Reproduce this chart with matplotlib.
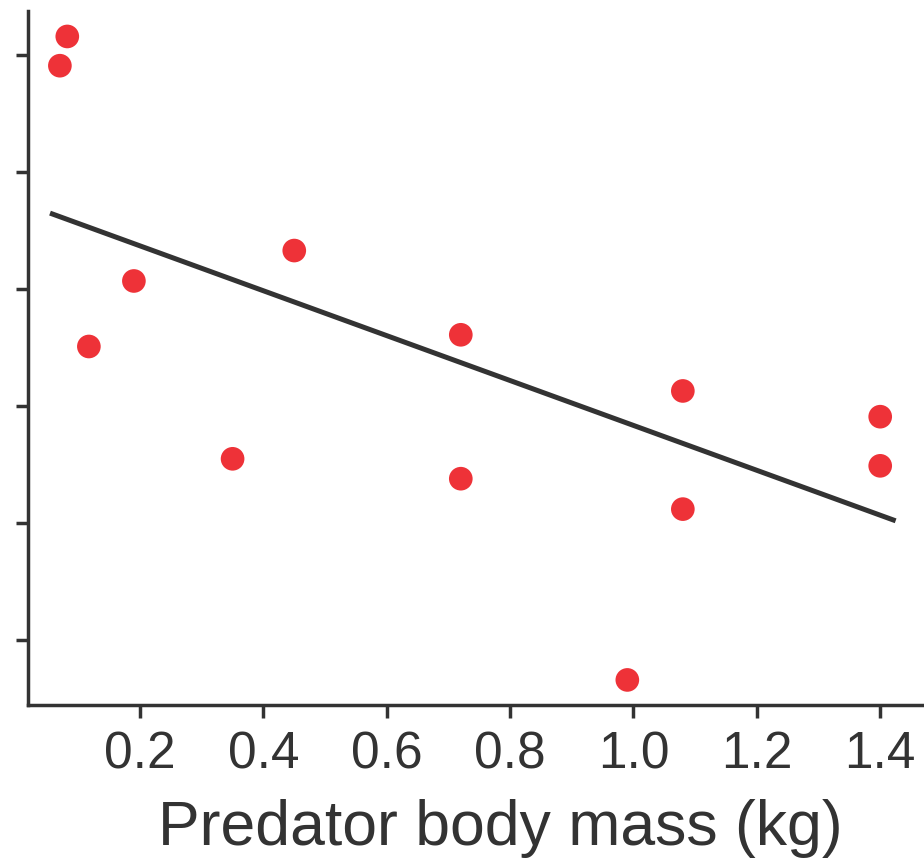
import matplotlib
matplotlib.use("Agg")
import matplotlib.pyplot as plt

# Data (y in arbitrary units; y tick labels hidden in reference)
mass_kg = [0.070, 0.082, 0.117, 0.190, 0.350, 0.450, 0.720, 0.720, 0.990, 1.080, 1.080, 1.400, 1.400]
response = [4.91, 5.16, 2.51, 3.07, 1.55, 3.33, 2.61, 1.38, -0.34, 2.13, 1.12, 1.91, 1.49]

# Fitted trend line endpoints
fit_x = [0.054, 1.425]
fit_y = [3.65, 1.02]

xticks = [0.2, 0.4, 0.6, 0.8, 1.0, 1.2, 1.4]
yticks = [0, 1, 2, 3, 4, 5]

plt.rcParams['font.family'] = ['Liberation Sans', 'DejaVu Sans']
dark = '#333333'

fig = plt.figure(figsize=(9.24, 8.6), dpi=100)
ax = fig.add_axes([0.0303, 0.180, 0.9697, 0.807])

ax.plot(fit_x, fit_y, color=dark, lw=3.6, solid_capstyle='butt', zorder=2)
ax.scatter(mass_kg, response, s=290, color='#EE3238', edgecolors='none', zorder=3)

ax.set_xlim(0.0183, 1.471)
ax.set_ylim(-0.556, 5.376)
ax.set_xticks(xticks)
ax.set_xticklabels([f"{t:.1f}" for t in xticks])
ax.set_yticks(yticks)
ax.set_yticklabels([])

for s in ['top', 'right']:
    ax.spines[s].set_visible(False)
for s in ['left', 'bottom']:
    ax.spines[s].set_color(dark)
    ax.spines[s].set_linewidth(2.5)

ax.tick_params(axis='both', colors=dark, width=2.5, length=9, labelsize=37, pad=9)
ax.set_xlabel('Predator body mass (kg)', fontsize=45, color=dark, labelpad=14)
ax.xaxis.label.set_x(0.527)

fig.savefig('out.png', dpi=100)
